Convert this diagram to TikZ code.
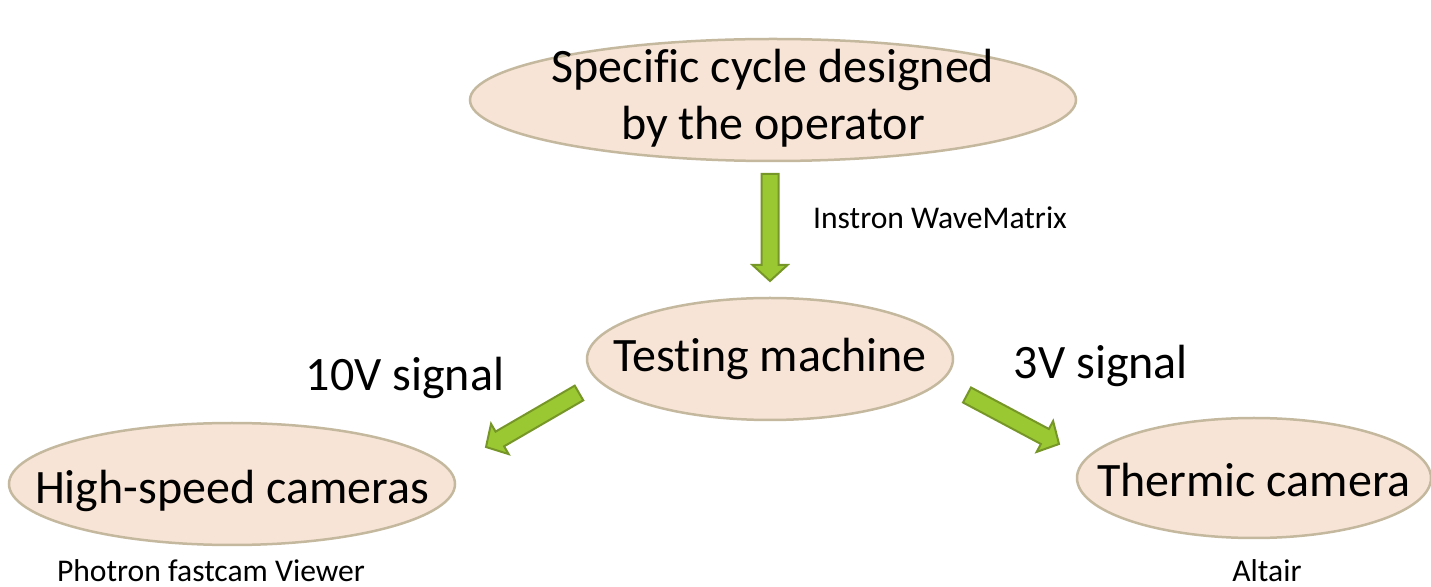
\documentclass[tikz,border=0pt]{standalone}
\usepackage{fontspec}
\setmainfont{Carlito}[Ligatures=NoCommon]
\usetikzlibrary{shapes.geometric,calc}

\definecolor{bubfill}{RGB}{248,228,214}
\definecolor{bubline}{RGB}{196,184,158}
\definecolor{arrfill}{RGB}{154,200,50}
\definecolor{arrline}{RGB}{118,150,40}

% fat block arrow from #1 to #2
\newcommand\fatarrow[2]{%
  \draw[fatarrow]
    ($(#1)!4.25pt!90:(#2)$) --
    ($(#2)!8pt!(#1)!4.25pt!90:(#2)$) --
    ($(#2)!8pt!(#1)!8.75pt!90:(#2)$) --
    (#2) --
    ($(#2)!8pt!(#1)!8.75pt!-90:(#2)$) --
    ($(#2)!8pt!(#1)!4.25pt!-90:(#2)$) --
    ($(#1)!4.25pt!-90:(#2)$) -- cycle;}

\begin{document}
\begin{tikzpicture}[x=0.5pt, y=-0.5pt,
    bubble/.style={ellipse, draw=bubline, fill=bubfill, line width=1.25pt,
      inner sep=0pt, minimum height=61pt},
    bubtext/.style={font=\fontsize{24}{28.5}\selectfont, align=center},
    bigtext/.style={font=\fontsize{24}{28.5}\selectfont},
    smalltext/.style={font=\fontsize{15.8}{18}\selectfont, anchor=base, inner sep=0pt},
    fatarrow/.style={draw=arrline, fill=arrfill, line width=1pt, line join=miter}]
        \useasboundingbox (0, 0) rectangle (1431, 587);

        % Draw the ellipses
        \node[bubble, minimum width=303pt,
          label={[bubtext, yshift=1pt]center:Specific cycle designed\\by the operator}]
          (cycle) at (773, 100) {};
        \node[bubble, minimum width=183pt,
          label={[bubtext]center:Testing machine}] (machine) at (770, 359) {};
        \node[bubble, minimum width=223pt,
          label={[bubtext, yshift=-3.5pt]center:High-speed cameras}] (hscam) at (232, 484) {};
        \node[bubble, minimum width=177pt, minimum height=60pt,
          label={[bubtext, yshift=-1pt]center:Thermic camera}] (thcam) at (1254, 478) {};

        % Draw the arrows
        \coordinate (downA) at (770, 174);
        \coordinate (downB) at (770, 281);
        \coordinate (leftA) at (579, 393);
        \coordinate (leftB) at (486, 447);
        \coordinate (rightA) at (967, 395);
        \coordinate (rightB) at (1059, 444);
        \fatarrow{downA}{downB}
        \fatarrow{leftA}{leftB}
        \fatarrow{rightA}{rightB}

        % Draw the labels
        \node[smalltext] (wave) at (940, 229) {Instron WaveMatrix};
        \node[bigtext] (tenv) at (405, 378) {10V signal};
        \node[bigtext] (threev) at (1101, 366) {3V signal};
        \node[smalltext] (photron) at (211, 582) {Photron fastcam Viewer};
        \node[smalltext] (altair) at (1267, 582) {Altair};
    \end{tikzpicture}
\end{document}
